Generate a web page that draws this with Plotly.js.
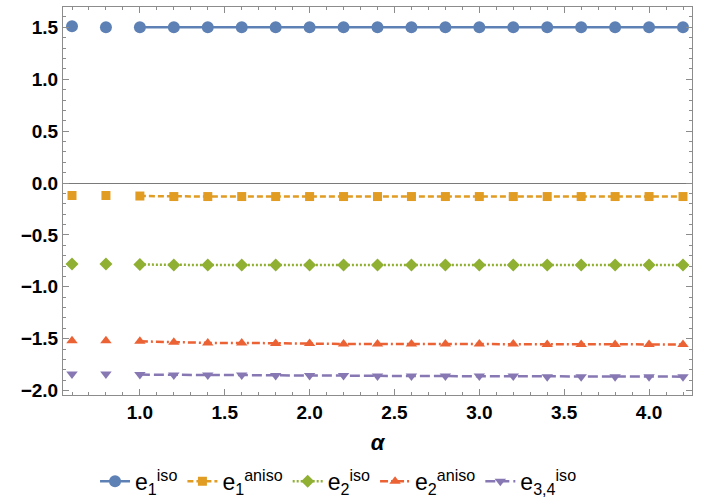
<!DOCTYPE html>
<html>
<head>
<meta charset="utf-8">
<script src="https://cdn.plot.ly/plotly-3.0.1.min.js"></script>
<style>html,body{margin:0;padding:0;background:#fff;}</style>
</head>
<body>
<div id="chart" style="width:704px;height:504px"></div>
<script>
// Data
const alpha = [0.6, 0.8, 1.0, 1.2, 1.4, 1.6, 1.8, 2.0, 2.2, 2.4, 2.6, 2.8, 3.0, 3.2, 3.4, 3.6, 3.8, 4.0, 4.2];
const e1iso   = [1.51, 1.50, 1.50, 1.50, 1.50, 1.50, 1.50, 1.50, 1.50, 1.50, 1.50, 1.50, 1.50, 1.50, 1.50, 1.50, 1.50, 1.50, 1.50];
const e1aniso = [-0.12, -0.12, -0.125, -0.13, -0.13, -0.13, -0.13, -0.13, -0.13, -0.13, -0.13, -0.13, -0.13, -0.13, -0.13, -0.13, -0.13, -0.13, -0.13];
const e2iso   = [-0.78, -0.78, -0.785, -0.79, -0.79, -0.79, -0.79, -0.79, -0.79, -0.79, -0.79, -0.79, -0.79, -0.79, -0.79, -0.79, -0.79, -0.79, -0.79];
const e2aniso = [-1.52, -1.52, -1.525, -1.535, -1.54, -1.54, -1.545, -1.545, -1.55, -1.55, -1.55, -1.55, -1.55, -1.55, -1.555, -1.555, -1.555, -1.555, -1.555];
const e34iso  = [-1.84, -1.84, -1.845, -1.85, -1.85, -1.85, -1.855, -1.855, -1.855, -1.86, -1.86, -1.86, -1.86, -1.86, -1.865, -1.865, -1.865, -1.865, -1.865];
const seriesNames = ['e<sub>1</sub><sup>iso</sup>', 'e<sub>1</sub><sup>aniso</sup>', 'e<sub>2</sub><sup>iso</sup>', 'e<sub>2</sub><sup>aniso</sup>', 'e<sub>3,4</sub><sup>iso</sup>'];
const xTitle = 'α';
const xTicks = [1.0, 1.5, 2.0, 2.5, 3.0, 3.5, 4.0];
const yTicks = [-2.0, -1.5, -1.0, -0.5, 0.0, 0.5, 1.0, 1.5];

const seriesValues = [e1iso, e1aniso, e2iso, e2aniso, e34iso];
const colors = ['#5E81B5', '#E19C24', '#8FB032', '#EB6235', '#8778B3'];
const symbols = ['circle', 'square', 'diamond', 'triangle-up', 'triangle-down'];
const msizes = [12, 9, 10, 10, 10];
const dashes = ['solid', '6px,3px', '2px,2px', '8px,3px,2px,3px', '10px,4px'];
const nLoose = 2; // first points drawn without connecting line

const traces = [];
seriesValues.forEach((vals, i) => {
  traces.push({
    x: alpha.slice(0, nLoose), y: vals.slice(0, nLoose),
    mode: 'markers', type: 'scatter', showlegend: false, legendgroup: 'g' + i,
    marker: {symbol: symbols[i], size: msizes[i], color: colors[i]},
    hoverinfo: 'skip'
  });
  traces.push({
    x: alpha.slice(nLoose), y: vals.slice(nLoose),
    mode: 'lines+markers', type: 'scatter', name: seriesNames[i], legendgroup: 'g' + i,
    line: {color: colors[i], width: 2.5, dash: dashes[i]},
    marker: {symbol: symbols[i], size: msizes[i], color: colors[i]}
  });
});

const fmt = v => (v < 0 ? '\u2212' : '') + Math.abs(v).toFixed(1);
const layout = {
  width: 704, height: 504,
  margin: {l: 63, r: 12, t: 7, b: 109},
  paper_bgcolor: '#fff', plot_bgcolor: '#fff',
  font: {family: 'Liberation Sans', size: 19, color: '#000', weight: 'bold'},
  showlegend: true,
  xaxis: {
    range: [0.547, 4.253], tickmode: 'array', tickvals: xTicks, ticktext: xTicks.map(fmt),
    showgrid: false, zeroline: false,
    showline: true, mirror: 'ticks', linecolor: '#8c8c8c', linewidth: 1,
    ticks: 'inside', ticklen: 6, tickcolor: '#8c8c8c', tickwidth: 1,
    minor: {dtick: 0.1, tick0: 0, ticks: 'inside', ticklen: 3, tickcolor: '#8c8c8c', showgrid: false},
    tickfont: {family: 'Liberation Sans', size: 19, weight: 'bold', color: '#000'},
    title: {text: '<i>' + xTitle + '</i>', font: {family: 'Liberation Sans', size: 22, weight: 'bold', style: 'italic', color: '#000'}, standoff: 12}
  },
  yaxis: {
    range: [-2.042, 1.696], tickmode: 'array', tickvals: yTicks, ticktext: yTicks.map(fmt),
    showgrid: false, zeroline: true, zerolinecolor: '#7a7a7a', zerolinewidth: 1,
    showline: true, mirror: 'ticks', linecolor: '#8c8c8c', linewidth: 1,
    ticks: 'inside', ticklen: 6, tickcolor: '#8c8c8c', tickwidth: 1,
    minor: {dtick: 0.1, tick0: 0, ticks: 'inside', ticklen: 3, tickcolor: '#8c8c8c', showgrid: false},
    tickfont: {family: 'Liberation Sans', size: 19, weight: 'bold', color: '#000'}
  },
  legend: {
    orientation: 'h', xref: 'container', yref: 'container',
    x: 0.135, xanchor: 'left', y: 0.045, yanchor: 'middle',
    font: {family: 'Liberation Sans', size: 23, weight: 'normal', color: '#000'},
    itemwidth: 30, tracegroupgap: 0, bgcolor: 'rgba(0,0,0,0)'
  }
};

Plotly.newPlot('chart', traces, layout, {displayModeBar: false, staticPlot: true});
</script>
</body>
</html>
